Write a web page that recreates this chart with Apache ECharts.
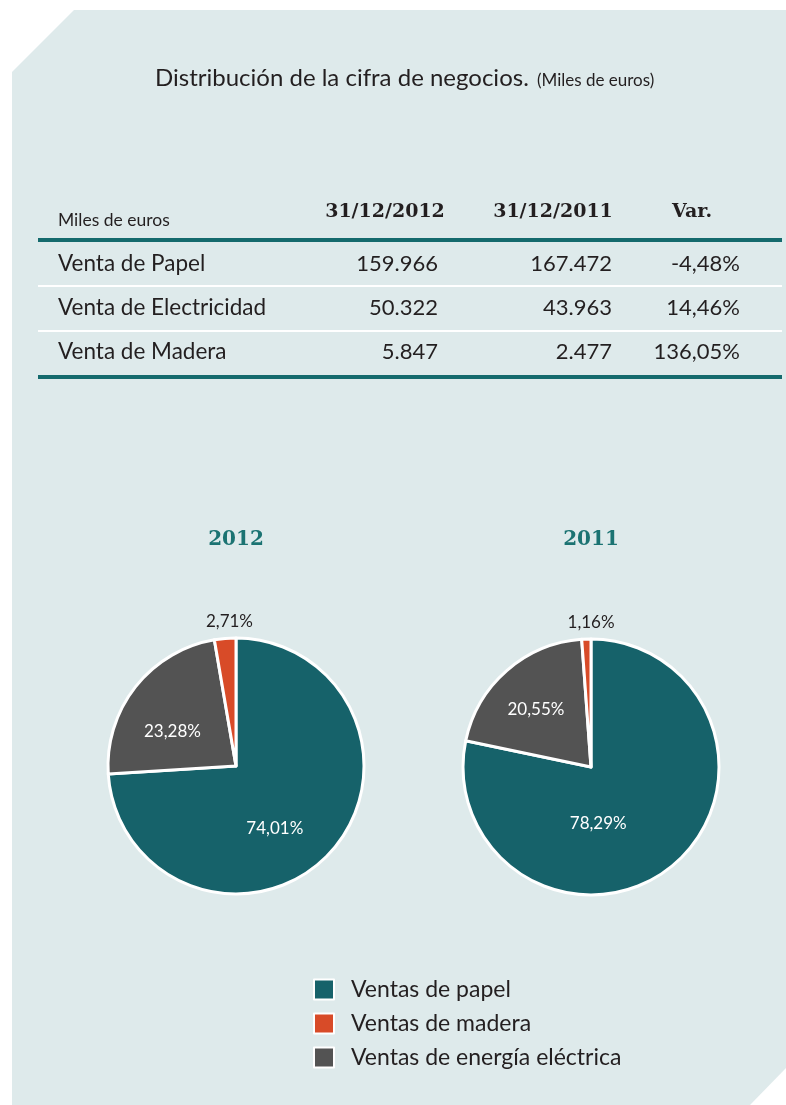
<!DOCTYPE html>
<html>
<head>
<meta charset="utf-8">
<script src="https://cdn.jsdelivr.net/npm/echarts@6/dist/echarts.min.js"></script>
<style>
html, body { margin: 0; padding: 0; background: #fff; }
#chart { width: 786px; height: 1105px; }
</style>
</head>
<body>
<div id="chart"></div>
<script>
// datos de la tabla (miles de euros)
var rowNames = ['Venta de Papel', 'Venta de Electricidad', 'Venta de Madera'];
var headers = ['31/12/2012', '31/12/2011', 'Var.'];
var ventas2012 = [159966, 50322, 5847];
var ventas2011 = [167472, 43963, 2477];
var variacion = [-4.48, 14.46, 136.05];

// tartas
var pieYears = ['2012', '2011'];
var pieNames = ['Ventas de papel', 'Ventas de energía eléctrica', 'Ventas de madera'];
var legendOrder = ['Ventas de papel', 'Ventas de madera', 'Ventas de energía eléctrica'];
var pieColors = ['#16626a', '#535353', '#d84b28'];
// ajuste de etiquetas internas (px) por tarta
var labelOffsets = [[[-10, 17], [-11, 7]], [[-35, 5], [-11, -7]]];

var TXT = '#231f20';
var TEAL = '#146a6d';
var BODY_FONT = 'Lato';
var SLAB_FONT = 'DejaVu Serif';

function miles(v) {
    return String(v).replace(/\B(?=(\d{3})+(?!\d))/g, '.');
}
function pct(v) {
    return v.toFixed(2).replace('.', ',') + '%';
}

var chart = echarts.init(document.getElementById('chart'));

var graphics = [];
// fondo con esquinas cortadas
graphics.push({
    type: 'polygon', z: -10,
    shape: { points: [[12, 72], [74, 10], [786, 10], [786, 1068], [750, 1105], [12, 1105]] },
    style: { fill: '#deeaeb' }
});
// titulo
graphics.push({
    type: 'text', x: 155, y: 78,
    style: { text: 'Distribución de la cifra de negocios.', fill: TXT, font: '24px ' + BODY_FONT, verticalAlign: 'middle' }
});
graphics.push({
    type: 'text', x: 537, y: 81,
    style: { text: '(Miles de euros)', fill: TXT, font: '17px ' + BODY_FONT, verticalAlign: 'middle' }
});

// cabecera de la tabla
graphics.push({
    type: 'text', x: 58, y: 220,
    style: { text: 'Miles de euros', fill: TXT, font: '17.5px ' + BODY_FONT, verticalAlign: 'middle' }
});
var headerX = [385, 553, 692];
headers.forEach(function (h, i) {
    graphics.push({
        type: 'text', x: headerX[i], y: 212,
        style: { text: h, fill: TXT, font: 'bold 19px "' + SLAB_FONT + '"', align: 'center', verticalAlign: 'middle' }
    });
});

// lineas
graphics.push({ type: 'rect', shape: { x: 38, y: 238, width: 744, height: 4 }, style: { fill: TEAL } });
graphics.push({ type: 'rect', shape: { x: 38, y: 285, width: 744, height: 2 }, style: { fill: '#fff' } });
graphics.push({ type: 'rect', shape: { x: 38, y: 330, width: 744, height: 2 }, style: { fill: '#fff' } });
graphics.push({ type: 'rect', shape: { x: 38, y: 375, width: 744, height: 4 }, style: { fill: TEAL } });

// filas
var rowY = [264, 308, 352];
var colRight = [438, 612, 740];
rowNames.forEach(function (name, i) {
    var cells = [miles(ventas2012[i]), miles(ventas2011[i]), pct(variacion[i])];
    graphics.push({
        type: 'text', x: 58, y: rowY[i],
        style: { text: name, fill: TXT, font: '22.5px ' + BODY_FONT, verticalAlign: 'middle' }
    });
    cells.forEach(function (c, j) {
        graphics.push({
            type: 'text', x: colRight[j], y: rowY[i],
            style: { text: c, fill: TXT, font: '22px ' + BODY_FONT, align: 'right', verticalAlign: 'middle' }
        });
    });
});

// años sobre las tartas
var pieCenters = [[236, 766], [591, 767]];
pieYears.forEach(function (y, i) {
    graphics.push({
        type: 'text', x: pieCenters[i][0], y: 540,
        style: { text: y, fill: '#1b7372', font: 'bold 20px "' + SLAB_FONT + '"', align: 'center', verticalAlign: 'middle' }
    });
});

var series = pieYears.map(function (y, i) {
    var vals = i === 0 ? ventas2012 : ventas2011;
    return {
        name: y,
        type: 'pie',
        center: pieCenters[i],
        radius: 128,
        startAngle: 90,
        clockwise: true,
        avoidLabelOverlap: false,
        emphasis: { disabled: true },
        itemStyle: { borderColor: '#fff', borderWidth: 3 },
        label: {
            position: 'inside',
            color: '#fff',
            fontFamily: BODY_FONT,
            fontSize: 17,
            distanceToLabelLine: 0,
            formatter: function (p) { return pct(p.percent); }
        },
        labelLine: { show: false, length: 8, length2: 0 },
        labelLayout: function (p) {
            if (p.dataIndex === 2) {
                return { align: 'center', verticalAlign: 'bottom', dx: 5 };
            }
        },
        data: vals.map(function (v, k) {
            var d = { name: pieNames[k], value: v, itemStyle: { color: pieColors[k] } };
            if (k === 2) {
                d.label = { position: 'outside', color: TXT };
            } else {
                d.label = { offset: labelOffsets[i][k] };
            }
            return d;
        })
    };
});

var option = {
    animation: false,
    backgroundColor: '#fff',
    graphic: graphics,
    legend: {
        orient: 'vertical',
        left: 313,
        top: 978,
        padding: 0,
        data: legendOrder,
        icon: 'rect',
        itemWidth: 20,
        itemHeight: 20,
        itemGap: 11,
        selectedMode: false,
        textStyle: { fontFamily: BODY_FONT, fontSize: 23, lineHeight: 20, color: TXT, padding: [0, 0, 0, 12] }
    },
    series: series
};
chart.setOption(option);
window.onresize = chart.resize;
</script>
</body>
</html>
